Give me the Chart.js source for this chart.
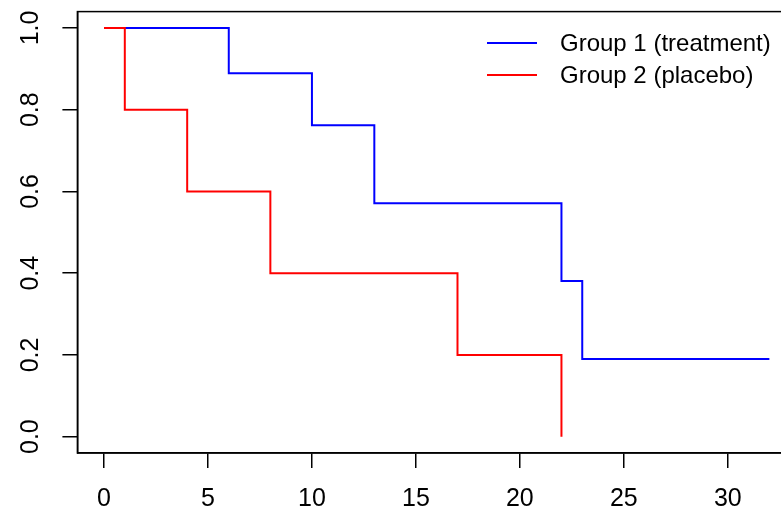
<!DOCTYPE html>
<html>
<head>
<meta charset="utf-8">
<script src="https://cdn.jsdelivr.net/npm/chart.js@4.4.1/dist/chart.umd.min.js"></script>
<style>
  html, body { margin: 0; padding: 0; background: #fff; overflow: hidden; }
  canvas { display: block; }
</style>
</head>
<body>
<canvas id="km" width="800" height="513"></canvas>
<script>
// survival times and estimates
const group1Times = [0, 6, 10, 13, 22, 23, 32];
const group1Surv = [1.0, 0.889, 0.762, 0.571, 0.381, 0.190, 0.190];
const group2Times = [0, 1, 4, 8, 17, 22];
const group2Surv = [1.0, 0.8, 0.6, 0.4, 0.2, 0.0];
const seriesNames = ['Group 1 (treatment)', 'Group 2 (placebo)'];
const xTicks = [0, 5, 10, 15, 20, 25, 30];
const yTicks = [0, 0.2, 0.4, 0.6, 0.8, 1.0];

const FONT = '"Liberation Sans", Arial, sans-serif';

const toPoints = (xs, ys) => xs.map((x, i) => ({ x: x, y: ys[i] }));

// top/right sides of the box (R bty="o")
const boxPlugin = {
    id: 'box',
    afterDraw(chart) {
        const a = chart.chartArea;
        const ctx = chart.ctx;
        ctx.save();
        ctx.strokeStyle = '#000';
        ctx.lineWidth = 1.5;
        ctx.strokeRect(a.left, a.top, a.right - a.left, a.bottom - a.top);
        ctx.restore();
    }
};

// legend without a frame, line sample + label
const legendPlugin = {
    id: 'rlegend',
    afterDraw(chart) {
        const ctx = chart.ctx;
        ctx.save();
        ctx.font = '24px ' + FONT;
        ctx.textBaseline = 'middle';
        ctx.fillStyle = '#000';
        chart.data.datasets.forEach((ds, i) => {
            const y = 43 + i * 32;
            ctx.strokeStyle = ds.borderColor;
            ctx.lineWidth = 2;
            ctx.beginPath();
            ctx.moveTo(487, y);
            ctx.lineTo(537, y);
            ctx.stroke();
            ctx.fillText(ds.label, 560, y + 1);
        });
        ctx.restore();
    }
};

new Chart(document.getElementById('km').getContext('2d'), {
    type: 'line',
    data: {
        datasets: [{
            label: seriesNames[0],
            data: toPoints(group1Times, group1Surv),
            borderColor: '#0000ff',
            borderWidth: 2,
            stepped: 'before',
            pointRadius: 0,
            fill: false,
            order: 2
        }, {
            label: seriesNames[1],
            data: toPoints(group2Times, group2Surv),
            borderColor: '#ff0000',
            borderWidth: 2,
            stepped: 'before',
            pointRadius: 0,
            fill: false,
            order: 1
        }]
    },
    options: {
        responsive: false,
        animation: false,
        layout: { padding: { top: 11.6, right: 4, left: 0, bottom: 0 } },
        plugins: { legend: { display: false }, tooltip: { enabled: false } },
        scales: {
            x: {
                type: 'linear',
                min: -1.28,
                max: 33.28,
                afterBuildTicks: (s) => { s.ticks = xTicks.map(v => ({ value: v })); },
                afterFit: (s) => { s.height = 60; s.paddingLeft = 0; s.paddingRight = 0; },
                grid: { drawOnChartArea: false, tickLength: 15, color: '#000', lineWidth: 1.5 },
                border: { color: '#000', width: 1.5 },
                ticks: {
                    color: '#000',
                    font: { family: FONT, size: 25 },
                    padding: 16,
                    maxRotation: 0,
                    autoSkip: false
                }
            },
            y: {
                type: 'linear',
                min: -0.04,
                max: 1.04,
                afterBuildTicks: (s) => { s.ticks = yTicks.map(v => ({ value: v })); },
                afterFit: (s) => { s.width = 77.4; s.paddingTop = 0; s.paddingBottom = 0; },
                grid: { drawOnChartArea: false, tickLength: 15, color: '#000', lineWidth: 1.5 },
                border: { color: '#000', width: 1.5 },
                ticks: {
                    color: '#000',
                    font: { family: FONT, size: 25 },
                    padding: 14,
                    minRotation: 90,
                    maxRotation: 90,
                    crossAlign: 'center',
                    autoSkip: false,
                    callback: (v) => Number(v).toFixed(1)
                }
            }
        }
    },
    plugins: [boxPlugin, legendPlugin]
});
</script>
</body>
</html>
